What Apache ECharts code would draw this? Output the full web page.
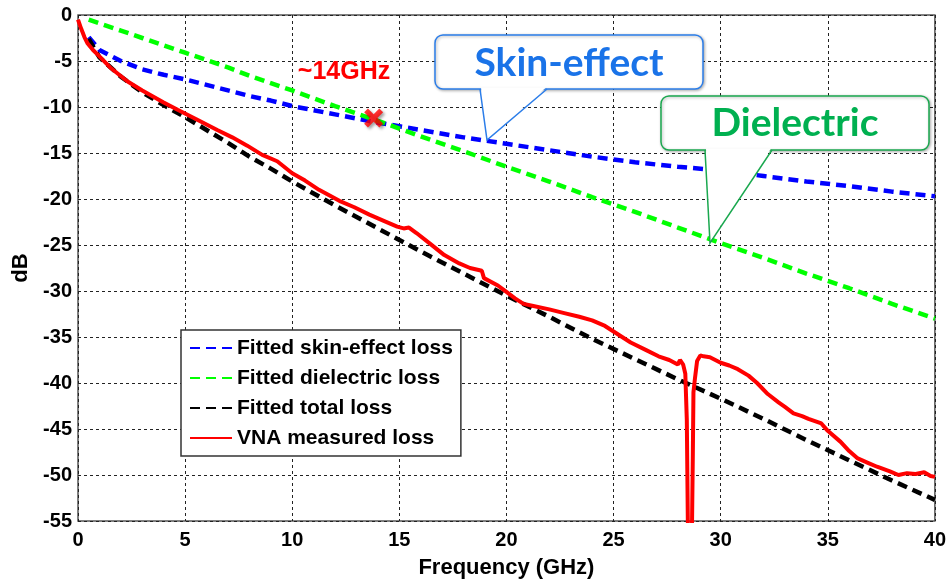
<!DOCTYPE html>
<html>
<head>
<meta charset="utf-8">
<script src="https://cdn.jsdelivr.net/npm/echarts@6/dist/echarts.min.js"></script>
<style>html,body{margin:0;padding:0;background:#fff;}#c{width:949px;height:584px;}</style>
</head>
<body>
<div id="c"></div>
<script>
// ---- data ----
const fitFreq = [0.5,1,2,3,4,5,6,7,8,9,10,12,14,16,18,20,22,24,26,28,30,32,34,36,38,40];
const skinLoss = [-2.4,-3.8,-5.0,-5.9,-6.5,-7.0,-7.6,-8.2,-8.8,-9.3,-9.9,-10.8,-11.7,-12.5,-13.3,-14.0,-14.7,-15.4,-16.0,-16.5,-16.9,-17.5,-18.1,-18.6,-19.2,-19.7];
const dielLoss = [-0.5,-0.9,-1.7,-2.5,-3.3,-4.1,-4.9,-5.7,-6.6,-7.4,-8.2,-9.9,-11.5,-13.2,-14.8,-16.5,-18.1,-19.8,-21.4,-23.1,-24.8,-26.4,-28.1,-29.7,-31.4,-33.0];
const totalLoss = [-2.6,-4.6,-6.7,-8.4,-9.8,-11.1,-12.5,-13.9,-15.4,-16.7,-18.1,-20.7,-23.2,-25.7,-28.1,-30.5,-32.8,-35.2,-37.4,-39.6,-41.7,-43.9,-46.2,-48.4,-50.6,-52.7];
const vnaFreq = [0,0.15,0.3,0.45,0.7,0.92,1.5,2.3,3.0,4.0,4.65,5.5,6.5,7.2,7.9,8.6,9.3,10,10.6,11.25,12.2,12.9,13.6,14.3,14.9,15.2,15.45,15.8,16.4,17.1,17.8,18.3,18.85,18.95,19.6,20.0,20.4,20.8,21.2,22.0,22.7,23.4,24.0,24.6,25.0,25.8,26.5,27.1,27.6,28.0,28.1,28.25,28.35,28.42,28.48,28.65,28.7,28.73,28.8,28.9,29.05,29.2,29.5,30.0,30.4,30.8,31.3,31.7,32.2,32.7,33.0,33.4,33.8,34.1,34.7,35.0,35.6,36.0,36.4,36.9,37.3,37.9,38.3,38.7,39.1,39.5,39.8,40];
const vnaLoss = [-0.5,-1.5,-2.4,-3.1,-3.8,-4.3,-5.7,-7.2,-8.2,-9.5,-10.3,-11.3,-12.5,-13.3,-14.2,-15.2,-15.9,-17.2,-18.0,-19.0,-20.2,-20.9,-21.7,-22.4,-23.0,-23.2,-23.1,-23.7,-24.8,-26.1,-27.0,-27.5,-27.8,-28.6,-29.4,-30.1,-30.8,-31.4,-31.6,-32.0,-32.4,-32.8,-33.2,-33.8,-34.4,-35.6,-36.4,-37.1,-37.5,-38.0,-37.5,-38.0,-39.0,-44.0,-58,-58,-48,-41,-39.5,-37.6,-37.0,-37.1,-37.2,-37.8,-38.1,-38.5,-39.2,-40.0,-41.2,-42.1,-42.6,-43.3,-43.6,-43.9,-44.4,-45.2,-46.4,-47.4,-48.2,-48.7,-49.1,-49.6,-50.0,-49.8,-49.9,-49.7,-50.1,-50.2];
const crossPoint = [13.8, -11.2];
const seriesNames = ['Fitted skin-effect loss','Fitted dielectric loss','Fitted total loss','VNA measured loss'];
const xTicks = {min:0, max:40, step:5};
const yTicks = {min:-55, max:0, step:5};

const pairs = (xs, ys) => xs.map((x,i)=>[x, ys[i]]);
const AX = 'Liberation Sans, Arial, sans-serif';
const chart = echarts.init(document.getElementById('c'), null, {renderer:'canvas'});
const dash = {width:4.5, type:[10,6]};
const xSym = 'path://M0,4 L4,0 L10,6 L16,0 L20,4 L14,10 L20,16 L16,20 L10,14 L4,20 L0,16 L6,10 Z';

chart.setOption({
  animation:false,
  backgroundColor:'#fff',
  grid:{left:78, right:12, top:15, bottom:57.5, show:true, borderColor:'#555', borderWidth:1.5, backgroundColor:'transparent'},
  xAxis:{type:'value', min:xTicks.min, max:xTicks.max, interval:xTicks.step,
    name:'Frequency (GHz)', nameLocation:'middle', nameGap:36,
    nameTextStyle:{fontFamily:AX, fontWeight:'bold', fontSize:22, color:'#000'},
    axisLine:{show:false}, axisTick:{show:false},
    axisLabel:{fontFamily:AX, fontWeight:'bold', fontSize:20, color:'#000', margin:9},
    splitLine:{show:true, lineStyle:{color:'#222', width:1, type:[3,3]}}},
  yAxis:{type:'value', min:yTicks.min, max:yTicks.max, interval:yTicks.step,
    name:'dB', nameLocation:'middle', nameGap:41, nameRotate:90,
    nameTextStyle:{fontFamily:AX, fontWeight:'bold', fontSize:22, color:'#000'},
    axisLine:{show:false}, axisTick:{show:false},
    axisLabel:{fontFamily:AX, fontWeight:'bold', fontSize:20, color:'#000', margin:6},
    splitLine:{show:true, lineStyle:{color:'#222', width:1, type:[3,3]}}},
  legend:{orient:'vertical', left:181, top:330, data:seriesNames,
    backgroundColor:'#fff', borderColor:'#333', borderWidth:1.5,
    padding:[7,8,7,8], itemGap:8, itemWidth:42, itemHeight:14,
    itemStyle:{color:'rgba(0,0,0,0)', borderWidth:0, opacity:0},
    textStyle:{fontFamily:AX, fontWeight:'bold', fontSize:21, color:'#000', lineHeight:22}},
  series:[
    {name:seriesNames[0], type:'line', symbol:'none', data:pairs(fitFreq, skinLoss), lineStyle:Object.assign({color:'#0000ff'}, dash), itemStyle:{color:'#0000ff'}},
    {name:seriesNames[1], type:'line', symbol:'none', data:pairs(fitFreq, dielLoss), lineStyle:Object.assign({color:'#00ff00'}, dash), itemStyle:{color:'#00ff00'}},
    {name:seriesNames[2], type:'line', symbol:'none', data:pairs(fitFreq, totalLoss), lineStyle:Object.assign({color:'#000000'}, dash), itemStyle:{color:'#000000'}},
    {name:seriesNames[3], type:'line', symbol:'none', data:pairs(vnaFreq, vnaLoss), lineStyle:{color:'#ff0000', width:4}, itemStyle:{color:'#ff0000'}, clip:true},
    {name:'cross', type:'scatter', data:[crossPoint], symbol:xSym, symbolSize:19, z:5,
      itemStyle:{color:'#ff0000', shadowColor:'rgba(0,0,0,0.45)', shadowBlur:3, shadowOffsetX:2, shadowOffsetY:2}}
  ],
  graphic:[
    // Skin-effect callout
    {type:'rect', z:100, shape:{x:435, y:35, width:268, height:54, r:8},
      style:{fill:'#fff', stroke:'#2b7de9', lineWidth:1.5, shadowColor:'rgba(0,0,0,0.3)', shadowBlur:3, shadowOffsetX:1, shadowOffsetY:1}},
    {type:'polygon', z:101, shape:{points:[[481,87.5],[546,87.5],[487,139]]}, style:{fill:'#fff'}},
    {type:'polyline', z:102, shape:{points:[[480,89],[487,140],[547,89]]}, style:{stroke:'#2b7de9', lineWidth:1.5, fill:null}},
    {type:'text', z:103, x:569, y:63, style:{text:'Skin-effect', fill:'#1a73e8', font:'bold 39px Lato, "Open Sans", sans-serif', align:'center', verticalAlign:'middle'}},
    // Dielectric callout
    {type:'rect', z:100, shape:{x:661, y:96, width:268, height:54, r:8},
      style:{fill:'#fff', stroke:'#1aa84f', lineWidth:1.5, shadowColor:'rgba(0,0,0,0.3)', shadowBlur:3, shadowOffsetX:1, shadowOffsetY:1}},
    {type:'polygon', z:101, shape:{points:[[706,148.5],[771,148.5],[710,242]]}, style:{fill:'#fff'}},
    {type:'polyline', z:102, shape:{points:[[705,150],[710,243],[772,150]]}, style:{stroke:'#1aa84f', lineWidth:1.5, fill:null}},
    {type:'text', z:103, x:795, y:123, style:{text:'Dielectric', fill:'#00b050', font:'bold 39px Lato, "Open Sans", sans-serif', align:'center', verticalAlign:'middle'}},
    // ~14GHz label
    {type:'text', z:103, x:344, y:72, style:{text:'~14GHz', fill:'#ff0000', font:'bold 25px "Liberation Sans", Arial, sans-serif', align:'center', verticalAlign:'middle'}}
  ]
});
</script>
</body>
</html>
